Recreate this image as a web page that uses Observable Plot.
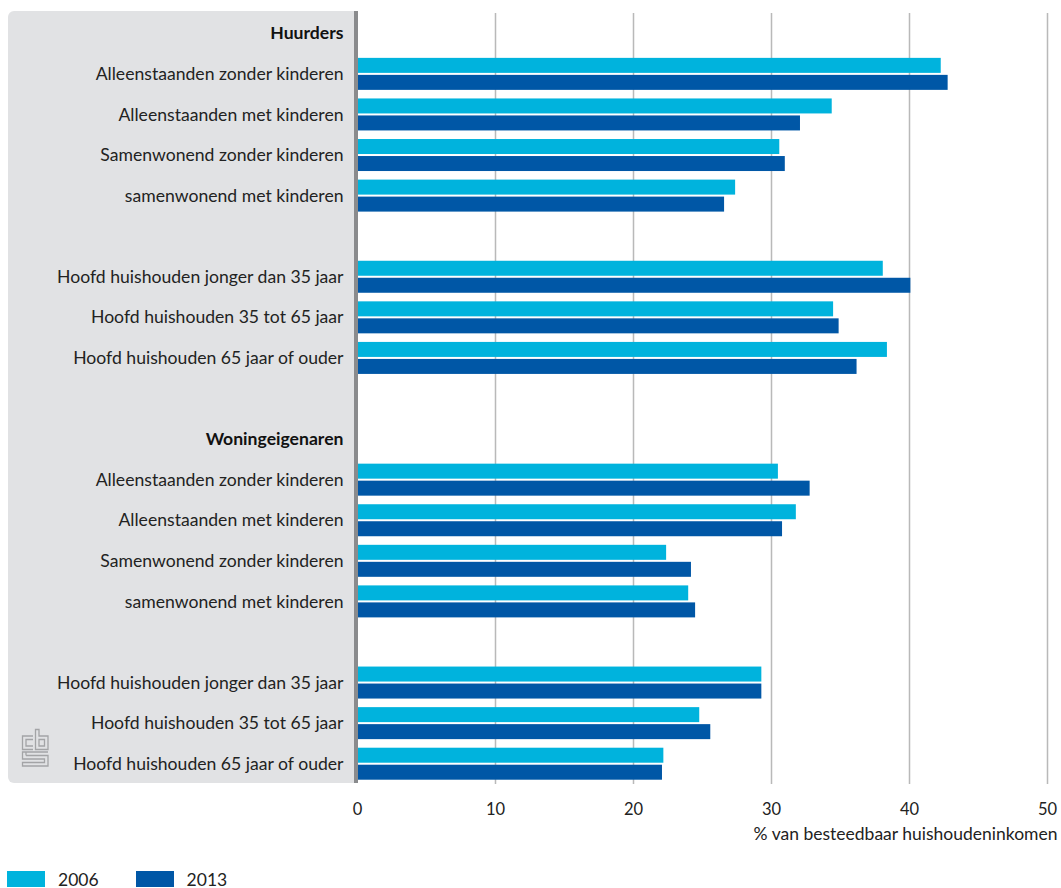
<!DOCTYPE html>
<html>
<head>
<meta charset="utf-8">
<script src="https://cdn.jsdelivr.net/npm/d3@7"></script>
<script src="https://cdn.jsdelivr.net/npm/@observablehq/plot@0.6"></script>
<style>
  html, body { margin: 0; background: #fff; font-family: Lato, "Noto Sans", sans-serif; overflow: hidden; }
  #chart svg { display: block; }
  #legend { display: flex; align-items: center; height: 16px; margin-top: 21px; padding-left: 7px; font-size: 17.5px; color: #222; }
  .sw { display: inline-block; width: 38px; height: 16px; margin-right: 13px; }
  .item { display: flex; align-items: center; margin-right: 37px; }
</style>
</head>
<body>
<div id="chart"></div>
<div id="legend"></div>
<script>
const groups = ["Huurders", "Woningeigenaren"];
const categories = [
  "Alleenstaanden zonder kinderen",
  "Alleenstaanden met kinderen",
  "Samenwonend zonder kinderen",
  "samenwonend met kinderen",
  "Hoofd huishouden jonger dan 35 jaar",
  "Hoofd huishouden 35 tot 65 jaar",
  "Hoofd huishouden 65 jaar of ouder"
];
const years = ["2006", "2013"];
const huurders2006 = [42.3, 34.4, 30.6, 27.4, 38.1, 34.5, 38.4];
const huurders2013 = [42.8, 32.1, 31.0, 26.6, 40.1, 34.9, 36.2];
const eigenaren2006 = [30.5, 31.8, 22.4, 24.0, 29.3, 24.8, 22.2];
const eigenaren2013 = [32.8, 30.8, 24.2, 24.5, 29.3, 25.6, 22.1];
const xTicks = [0, 10, 20, 30, 40, 50];
const xLabel = "% van besteedbaar huishoudeninkomen";
const colors = ["#00b3dd", "#0057a6"];

// Build row domain (with header and blank spacer rows)
const rowDomain = [];
const headerRows = [];
const catRows = [];
groups.forEach((g, gi) => {
  const hk = g + "|header";
  rowDomain.push(hk); headerRows.push({key: hk, label: g});
  categories.forEach((c, ci) => {
    if (ci === 4) rowDomain.push(g + "|gap");
    const k = g + "|" + c;
    rowDomain.push(k); catRows.push({key: k, label: c});
  });
  if (gi < groups.length - 1) rowDomain.push(g + "|gap2");
});

const series = {Huurders: [huurders2006, huurders2013], Woningeigenaren: [eigenaren2006, eigenaren2013]};
const data = [];
groups.forEach(g => {
  categories.forEach((c, ci) => {
    years.forEach((y, yi) => data.push({row: g + "|" + c, year: y, value: series[g][yi][ci]}));
  });
});

const W = 1061, H = 850, mT = 13, mB = 66, mL = 357, mR = 14;
const band = (H - mT - mB) / rowDomain.length;

const panel = (index, scales, values, dims) => {
  const g = d3.create("svg:g");
  const x0 = 8, x1 = dims.marginLeft - 3, y0 = dims.marginTop - 2, y1 = dims.height - dims.marginBottom - 1, r = 6;
  g.append("path")
    .attr("d", `M${x1},${y0}H${x0 + r}A${r},${r} 0 0 0 ${x0},${y0 + r}V${y1 - r}A${r},${r} 0 0 0 ${x0 + r},${y1}H${x1}Z`)
    .attr("fill", "#e1e2e4");
  // thick vertical axis line at panel edge
  g.append("rect").attr("x", x1).attr("y", y0).attr("width", 4).attr("height", y1 - y0).attr("fill", "#8a8b8d");
  // cbs logo (decorative)
  const lg = g.append("g").attr("transform", `translate(22,${y1 - 54})`)
    .attr("fill", "none").attr("stroke", "#a3a4a6").attr("stroke-width", 1.3);
  lg.append("path").attr("d", "M11,7H0.5V20.5H11 M11,10.5H4V17H11");
  lg.append("path").attr("d", "M13.5,0.5V20.5H26V7H17V0.5Z M17,10.5H22.5V17H17Z");
  lg.append("path").attr("d", "M26,23H0.5V30H22.5V33.5H0.5V37H26V26.5H4 M4,26.5V23");
  return g.node();
};

const chart = Plot.plot({
  width: W, height: H,
  marginTop: mT, marginBottom: mB, marginLeft: mL, marginRight: mR,
  style: {fontFamily: "Lato, 'Noto Sans', sans-serif", fontSize: "16px", color: "#222", background: "#fff"},
  x: {domain: [0, 50], axis: null},
  y: {domain: rowDomain, padding: 0, round: false, axis: null},
  marks: [
    Plot.ruleX(xTicks.filter(d => d > 0), {stroke: "#b9b9b9", strokeWidth: 1.5}),
    Plot.barX(data.filter(d => d.year === years[0]), {x1: 0, x2: "value", y: "row", fill: colors[0], insetTop: band / 2 - 16, insetBottom: band / 2 + 1}),
    Plot.barX(data.filter(d => d.year === years[1]), {x1: 0, x2: "value", y: "row", fill: colors[1], insetTop: band / 2 + 1, insetBottom: band / 2 - 16}),
    panel,
    Plot.text(catRows, {y: "key", text: "label", frameAnchor: "left", textAnchor: "end", dx: -14, fontSize: 17.6, fill: "#222"}),
    Plot.text(headerRows, {y: "key", text: "label", frameAnchor: "left", textAnchor: "end", dx: -14, fontSize: 17.6, fontWeight: "bold", fill: "#111"}),
    Plot.axisX(xTicks, {tickSize: 0, tickPadding: 19, fontSize: 16.5, label: null, fill: "#222"}),
    Plot.text([xLabel], {frameAnchor: "bottom-right", textAnchor: "end", lineAnchor: "top", dx: 10, dy: 43, fontSize: 17.5, fill: "#222"})
  ]
});
document.getElementById("chart").appendChild(chart);

const legend = document.getElementById("legend");
years.forEach((y, i) => {
  const it = document.createElement("div"); it.className = "item";
  const sw = document.createElement("span"); sw.className = "sw"; sw.style.background = colors[i];
  it.appendChild(sw); it.appendChild(document.createTextNode(y));
  legend.appendChild(it);
});
</script>
</body>
</html>
